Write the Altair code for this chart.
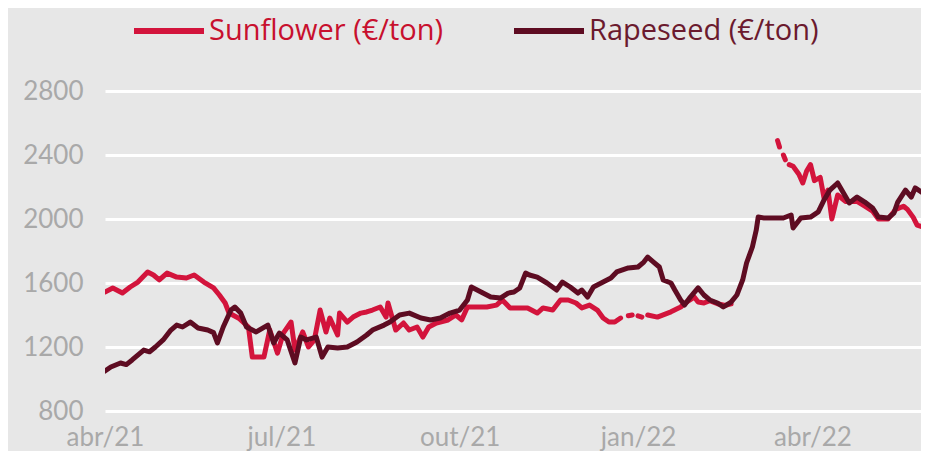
import altair as alt
import pandas as pd

SERIES = ["Sunflower (€/ton)", "Rapeseed (€/ton)"]
COLORS = ["#d3143c", "#5e0c22"]
LABEL_COLORS = ["#c8102e", "#6b1a2e"]

rape_dates = [
    "2021-04-01", "2021-04-04", "2021-04-09", "2021-04-12", "2021-04-15", "2021-04-21", "2021-04-24", "2021-04-27",
    "2021-05-01", "2021-05-05", "2021-05-08", "2021-05-11", "2021-05-15", "2021-05-19", "2021-05-24", "2021-05-27", "2021-05-29",
    "2021-06-01", "2021-06-05", "2021-06-07", "2021-06-10", "2021-06-13", "2021-06-18", "2021-06-24", "2021-06-27", "2021-06-30",
    "2021-07-04", "2021-07-08", "2021-07-11", "2021-07-14", "2021-07-19", "2021-07-22", "2021-07-25", "2021-07-30",
    "2021-08-04", "2021-08-09", "2021-08-14", "2021-08-17", "2021-08-23", "2021-08-26", "2021-08-31",
    "2021-09-05", "2021-09-11", "2021-09-16", "2021-09-21", "2021-09-26",
    "2021-10-01", "2021-10-05", "2021-10-07", "2021-10-12", "2021-10-17", "2021-10-22", "2021-10-26", "2021-10-29",
    "2021-11-01", "2021-11-04", "2021-11-06", "2021-11-10", "2021-11-15", "2021-11-20", "2021-11-23", "2021-11-27",
    "2021-12-01", "2021-12-03", "2021-12-06", "2021-12-09", "2021-12-14", "2021-12-18", "2021-12-21", "2021-12-27",
    "2022-01-01", "2022-01-04", "2022-01-06", "2022-01-09", "2022-01-12", "2022-01-14", "2022-01-18", "2022-01-20", "2022-01-23", "2022-01-25", "2022-01-28",
    "2022-02-01", "2022-02-04", "2022-02-07", "2022-02-11", "2022-02-14", "2022-02-18", "2022-02-21", "2022-02-24", "2022-02-26",
    "2022-03-01", "2022-03-03", "2022-03-04", "2022-03-07", "2022-03-12", "2022-03-17", "2022-03-21", "2022-03-22", "2022-03-26", "2022-03-31",
    "2022-04-04", "2022-04-07", "2022-04-10", "2022-04-14", "2022-04-17", "2022-04-20", "2022-04-24", "2022-04-28",
    "2022-05-02", "2022-05-05", "2022-05-10", "2022-05-13", "2022-05-15", "2022-05-19", "2022-05-22", "2022-05-24", "2022-05-28", "2022-05-30",
]
rape_values = [
    1050, 1075, 1100, 1090, 1119, 1181, 1170, 1200,
    1244, 1306, 1337, 1325, 1356, 1319, 1306, 1290, 1225,
    1325, 1431, 1450, 1412, 1325, 1294, 1337, 1225, 1287,
    1244, 1100, 1262, 1244, 1262, 1137, 1200, 1194,
    1200, 1231, 1275, 1306, 1337, 1356, 1400,
    1412, 1381, 1369, 1381, 1412,
    1431, 1494, 1575, 1544, 1512, 1506, 1537, 1544,
    1569, 1662, 1650, 1637, 1600, 1556, 1606, 1575,
    1537, 1556, 1512, 1575, 1606, 1631, 1669, 1694,
    1700, 1731, 1762, 1731, 1700, 1619, 1600, 1556, 1494, 1462, 1512,
    1569, 1525, 1494, 1475, 1450, 1481, 1525, 1619, 1725,
    1825, 1931, 2012, 2006, 2006, 2006, 2025, 1944, 2006, 2012,
    2044, 2119, 2181, 2225, 2162, 2100, 2137, 2106,
    2069, 2012, 2006, 2037, 2106, 2181, 2137, 2194, 2162, 2137,
]

sun_dates = [
    "2021-04-01", "2021-04-05", "2021-04-10", "2021-04-14", "2021-04-18", "2021-04-23", "2021-04-26", "2021-04-29",
    "2021-05-03", "2021-05-08", "2021-05-13", "2021-05-17", "2021-05-22", "2021-05-27", "2021-05-30",
    "2021-06-02", "2021-06-04", "2021-06-09", "2021-06-14", "2021-06-16", "2021-06-22", "2021-06-25", "2021-06-29",
    "2021-07-02", "2021-07-06", "2021-07-08", "2021-07-12", "2021-07-15", "2021-07-18", "2021-07-21", "2021-07-24", "2021-07-26", "2021-07-30", "2021-07-31",
    "2021-08-04", "2021-08-07", "2021-08-11", "2021-08-14", "2021-08-17", "2021-08-21", "2021-08-24", "2021-08-25", "2021-08-29",
    "2021-09-02", "2021-09-05", "2021-09-09", "2021-09-12", "2021-09-15", "2021-09-19", "2021-09-25", "2021-09-29",
    "2021-10-02", "2021-10-05", "2021-10-10", "2021-10-15", "2021-10-20", "2021-10-23", "2021-10-27", "2021-10-31",
    "2021-11-05", "2021-11-10", "2021-11-13", "2021-11-18", "2021-11-22", "2021-11-26", "2021-11-30",
    "2021-12-03", "2021-12-07", "2021-12-11", "2021-12-14", "2021-12-17", "2021-12-20", "2021-12-23",
    "2021-12-27", "2021-12-29",
    "2022-01-01", "2022-01-03",
    "2022-01-06", "2022-01-11", "2022-01-18", "2022-01-23", "2022-01-26", "2022-01-30",
    "2022-02-01", "2022-02-04", "2022-02-07", "2022-02-11", "2022-02-15", "2022-02-18",
    "2022-03-14", "2022-03-15",
    "2022-03-17", "2022-03-18",
    "2022-03-20", "2022-03-22", "2022-03-25", "2022-03-27", "2022-03-29", "2022-03-31",
    "2022-04-02", "2022-04-05", "2022-04-07", "2022-04-09", "2022-04-11", "2022-04-14", "2022-04-18", "2022-04-24", "2022-04-28",
    "2022-05-02", "2022-05-05", "2022-05-10", "2022-05-14", "2022-05-18", "2022-05-20", "2022-05-23", "2022-05-25", "2022-05-28", "2022-05-31",
]
sun_values = [
    1544, 1569, 1537, 1575, 1606, 1669, 1650, 1619,
    1662, 1637, 1631, 1650, 1606, 1569, 1525,
    1475, 1412, 1380, 1325, 1137, 1137, 1306, 1162,
    1287, 1356, 1181, 1294, 1200, 1244, 1431, 1294, 1381, 1275, 1412,
    1356, 1387, 1412, 1419, 1431, 1450, 1387, 1475, 1306,
    1350, 1306, 1325, 1262, 1325, 1350, 1369, 1400,
    1369, 1450, 1450, 1450, 1462, 1494, 1444, 1444,
    1444, 1412, 1444, 1431, 1494, 1494, 1475,
    1444, 1462, 1431, 1381, 1356, 1356, 1381,
    1395, 1400,
    1395, 1387,
    1400, 1387, 1420, 1450, 1481, 1512,
    1481, 1475, 1490, 1470, 1460, 1470,
    2490, 2450,
    2400, 2370,
    2340, 2330, 2280, 2225, 2300, 2340,
    2240, 2260, 2130, 2180, 2000, 2150, 2110, 2110, 2080,
    2050, 2000, 2000, 2060, 2080, 2060, 2010, 1962, 1950, 1960,
]
# dates after which the sunflower series has missing days (line breaks)
sun_gap_after = ["2021-12-23", "2021-12-29", "2022-01-03", "2022-02-18", "2022-03-15", "2022-03-18"]

y_ticks = [800, 1200, 1600, 2000, 2400, 2800]
x_tick_months = [(2021, 4), (2021, 7), (2021, 10), (2022, 1), (2022, 4)]

segs, s = [], 0
for d in sun_dates:
    segs.append(s)
    if d in sun_gap_after:
        s += 1

sun = pd.DataFrame({"date": sun_dates, "value": sun_values, "series": SERIES[0], "seg": segs})
rape = pd.DataFrame({"date": rape_dates, "value": rape_values, "series": SERIES[1], "seg": 0})

FONT = "Lato"
label_expr = (
    "['jan','fev','mar','abr','mai','jun','jul','ago','set','out','nov','dez'][utcmonth(datum.value)]"
    " + '/' + utcFormat(datum.value, '%y')"
)

x_enc = alt.X(
    "date:T",
    scale=alt.Scale(
        type="utc",
        domain=[alt.DateTime(year=2021, month=4, date=1, utc=True),
                alt.DateTime(year=2022, month=5, date=27, utc=True)],
    ),
    axis=alt.Axis(
        title=None, values=[alt.DateTime(year=y, month=m, date=1, utc=True) for y, m in x_tick_months],
        labelExpr=label_expr, grid=False, domain=False, ticks=False, labelPadding=13,
        labelFlush=False, labelOverlap=False, labelFontSize=26, labelFont=FONT, labelColor="#a9a9a9",
    ),
)
y_enc = alt.Y(
    "value:Q",
    scale=alt.Scale(domain=[800, 2800], nice=False, zero=False),
    axis=alt.Axis(
        title=None, values=y_ticks, format="d", grid=True, gridColor="#ffffff", gridWidth=3,
        domain=False, ticks=False, labelPadding=22, labelFontSize=26, labelFont=FONT,
        labelColor="#a9a9a9",
    ),
)
label_color = alt.ExprRef(
    expr=f"datum.value == '{SERIES[0]}' ? '{LABEL_COLORS[0]}' : '{LABEL_COLORS[1]}'"
)
color_enc = alt.Color(
    "series:N",
    scale=alt.Scale(domain=SERIES, range=COLORS),
    legend=alt.Legend(
        title=None, orient="none", legendX=26, legendY=-98, direction="horizontal",
        symbolType="stroke", symbolSize=4900, symbolStrokeWidth=6, labelFontSize=29,
        labelFont="Open Sans", labelOffset=2, columnPadding=58, labelLimit=0, labelColor=label_color,
    ),
)

def layer(df):
    return alt.Chart(df).mark_line(
        strokeWidth=5, strokeCap="round", strokeJoin="round", clip=True
    ).encode(x=x_enc, y=y_enc, color=color_enc, detail="seg:N")

chart = alt.layer(layer(sun), layer(rape)).properties(
    width=816, height=320,
    autosize=alt.AutoSizeParams(type="none"),
    padding={"left": 97, "top": 83, "right": 0, "bottom": 40},
    background="#e7e7e7",
).configure_view(stroke=None)

chart.save("out.html", embed_options={"renderer": "svg", "actions": False})
